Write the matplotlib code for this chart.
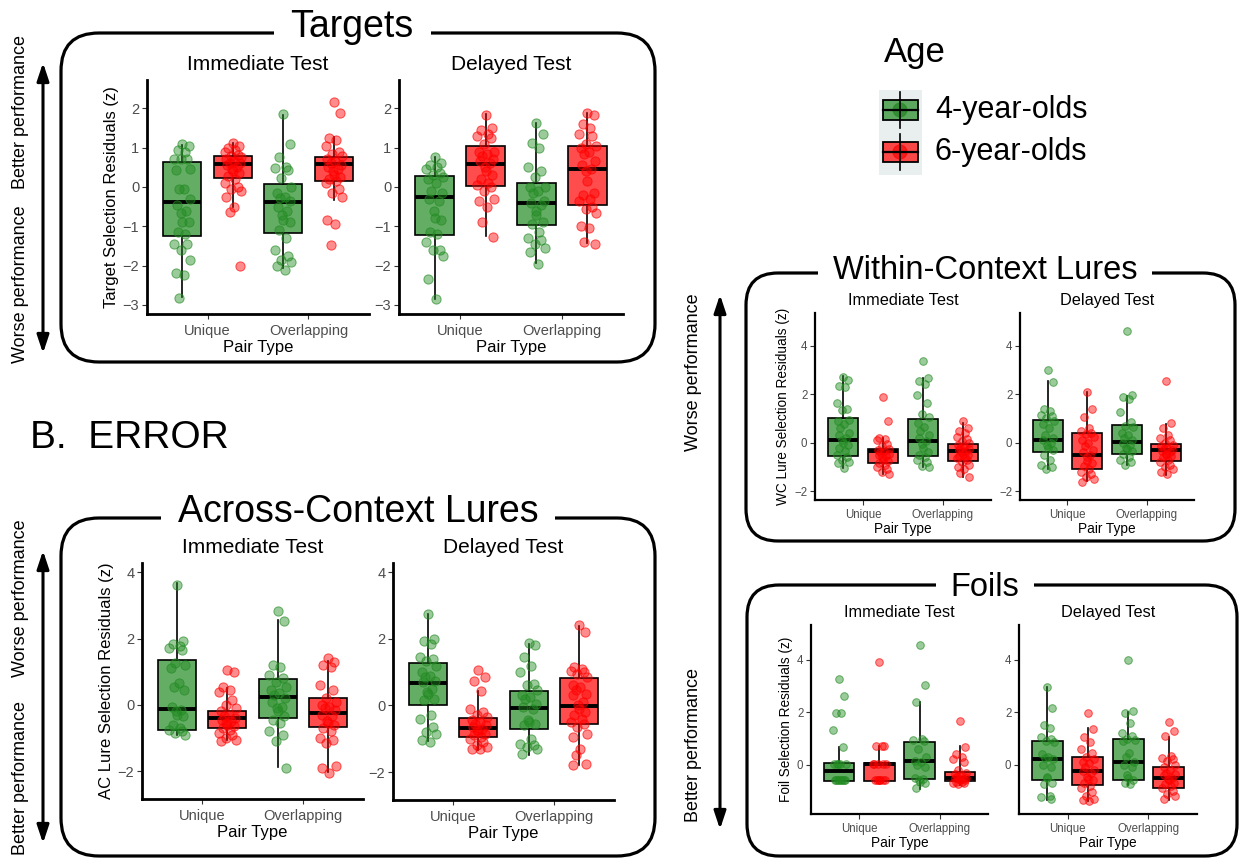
import matplotlib
matplotlib.use("Agg")
import matplotlib.pyplot as plt
from matplotlib.colors import to_rgba
from matplotlib.patches import FancyBboxPatch, Rectangle, FancyArrowPatch, Circle

plt.rcParams["font.family"] = ["Liberation Sans", "DejaVu Sans"]

W, H = 1241, 861

PAIR_TYPES = ["Unique", "Overlapping"]
AGES = ["4-year-olds", "6-year-olds"]
TESTS = ["Immediate Test", "Delayed Test"]

# box stats per group: [whisker low, q1, median, q3, whisker high]
# group order: Unique/4y, Unique/6y, Overlapping/4y, Overlapping/6y
tgt_imm_box = [[-2.81, -1.24, -0.37, 0.63, 1.07], [-0.50, 0.22, 0.59, 0.80, 1.13],
               [-2.07, -1.18, -0.39, 0.08, 1.83], [-0.33, 0.14, 0.58, 0.76, 1.28]]
tgt_imm_pts = [
    [1.10, 1.05, 0.95, 0.90, 0.72, 0.70, 0.70, 0.45, 0.42, -0.05, -0.05, -0.30, -0.45,
     -0.60, -0.65, -0.90, -0.90, -1.15, -1.20, -1.45, -1.45, -1.60, -1.85, -2.20, -2.25, -2.83],
    [1.12, 1.05, 1.00, 0.95, 0.88, 0.82, 0.78, 0.75, 0.70, 0.65, 0.62, 0.60, 0.55, 0.50,
     0.45, 0.40, 0.35, 0.28, 0.20, 0.10, 0.00, -0.05, -0.10, -0.25, -0.50, -0.63, -2.00],
    [1.85, 1.10, 0.75, 0.50, 0.48, 0.42, 0.22, 0.00, -0.15, -0.25, -0.28, -0.35, -0.50,
     -0.60, -0.70, -0.85, -0.90, -1.10, -1.30, -1.60, -1.75, -1.85, -1.90, -2.00, -2.12],
    [2.15, 1.87, 1.25, 1.20, 1.05, 0.90, 0.85, 0.80, 0.70, 0.65, 0.60, 0.55, 0.50, 0.45,
     0.40, 0.30, 0.25, 0.20, 0.15, 0.10, -0.05, -0.15, -0.25, -0.85, -0.95, -1.48],
]
tgt_del_box = [[-2.85, -1.22, -0.25, 0.29, 0.77], [-1.25, 0.02, 0.59, 1.04, 1.85],
               [-1.94, -0.97, -0.40, 0.11, 1.62], [-1.43, -0.46, 0.46, 1.04, 1.87]]
tgt_del_pts = [
    [0.77, 0.60, 0.55, 0.50, 0.45, 0.35, 0.30, 0.25, 0.20, 0.10, -0.10, -0.15, -0.30,
     -0.35, -0.60, -0.80, -0.85, -1.15, -1.20, -1.40, -1.60, -1.60, -1.75, -2.33, -2.85],
    [1.82, 1.50, 1.45, 1.35, 1.30, 1.25, 1.10, 0.90, 0.88, 0.85, 0.80, 0.70, 0.65, 0.60,
     0.50, 0.40, 0.30, 0.20, 0.10, 0.05, 0.00, -0.10, -0.30, -0.35, -0.50, -0.90, -1.27],
    [1.63, 1.35, 1.12, 1.00, 0.50, 0.40, 0.25, 0.00, 0.00, -0.10, -0.15, -0.35, -0.40,
     -0.45, -0.60, -0.70, -0.90, -0.95, -1.15, -1.30, -1.35, -1.45, -1.55, -1.65, -1.95],
    [1.87, 1.82, 1.60, 1.50, 1.35, 1.30, 1.10, 1.05, 1.00, 0.90, 0.85, 0.65, 0.55, 0.45,
     0.40, 0.15, -0.15, -0.20, -0.30, -0.35, -0.50, -0.55, -0.65, -1.00, -1.05, -1.40, -1.45],
]

ac_imm_box = [[-0.91, -0.75, -0.13, 1.35, 3.67], [-1.07, -0.71, -0.41, -0.18, 0.50],
              [-1.87, -0.41, 0.24, 0.78, 2.56], [-2.04, -0.66, -0.26, 0.22, 1.32]]
ac_imm_pts = [
    [3.63, 1.92, 1.85, 1.78, 1.72, 1.65, 1.25, 1.20, 1.10, 0.65, 0.55, 0.45, -0.05, -0.15,
     -0.20, -0.30, -0.35, -0.60, -0.70, -0.75, -0.80, -0.85, -0.90],
    [1.05, 0.98, 0.55, 0.45, 0.40, 0.15, 0.00, -0.10, -0.20, -0.30, -0.35, -0.40, -0.45,
     -0.50, -0.55, -0.60, -0.65, -0.70, -0.75, -0.85, -0.90, -1.00, -1.05, -1.10],
    [2.82, 2.52, 1.20, 1.15, 0.90, 0.80, 0.70, 0.55, 0.45, 0.35, 0.30, 0.20, 0.10, -0.05,
     -0.10, -0.20, -0.35, -0.45, -0.55, -0.80, -0.90, -1.10, -1.90],
    [1.40, 1.30, 1.20, 1.15, 0.60, 0.45, 0.20, 0.10, 0.00, -0.05, -0.10, -0.15, -0.30,
     -0.35, -0.50, -0.55, -0.60, -0.70, -0.80, -1.00, -1.05, -1.15, -1.85, -1.90, -2.05],
]
ac_del_box = [[-1.08, 0.01, 0.68, 1.28, 2.74], [-1.33, -0.96, -0.69, -0.37, 0.43],
              [-1.48, -0.72, -0.07, 0.43, 1.86], [-1.78, -0.57, -0.02, 0.83, 2.39]]
ac_del_pts = [
    [2.75, 2.00, 1.95, 1.85, 1.45, 1.40, 1.35, 1.20, 1.00, 0.90, 0.85, 0.75, 0.70, 0.50,
     0.40, 0.35, 0.20, 0.15, -0.30, -0.40, -0.65, -0.80, -0.85, -1.05, -1.10],
    [1.08, 0.85, 0.75, 0.42, -0.10, -0.20, -0.30, -0.35, -0.45, -0.50, -0.55, -0.60, -0.65,
     -0.70, -0.75, -0.80, -0.85, -0.90, -0.95, -1.00, -1.10, -1.20, -1.25, -1.30, -1.32],
    [1.88, 1.82, 1.45, 1.20, 1.00, 0.65, 0.60, 0.45, 0.30, 0.25, 0.20, 0.05, -0.05, -0.10,
     -0.45, -0.50, -0.55, -0.60, -1.00, -1.15, -1.20, -1.25, -1.30, -1.45],
    [2.42, 2.20, 1.15, 1.10, 1.05, 1.00, 0.95, 0.85, 0.60, 0.55, 0.45, 0.35, 0.30, 0.10,
     0.00, -0.10, -0.20, -0.30, -0.40, -0.50, -0.55, -0.65, -0.85, -0.95, -1.30, -1.50,
     -1.75, -1.80],
]

wc_imm_box = [[-1.03, -0.55, 0.11, 1.03, 2.74], [-1.28, -0.84, -0.35, -0.26, 0.20],
              [-1.00, -0.55, 0.07, 0.98, 2.65], [-1.42, -0.76, -0.35, -0.07, 0.81]]
wc_imm_pts = [
    [2.72, 2.60, 2.35, 2.30, 1.65, 1.40, 1.35, 0.95, 0.90, 0.75, 0.60, 0.40, 0.30, 0.20,
     0.10, 0.00, -0.10, -0.20, -0.35, -0.50, -0.60, -0.70, -0.80, -0.85, -1.05],
    [1.87, 0.90, 0.20, 0.15, 0.10, -0.05, -0.15, -0.25, -0.30, -0.35, -0.40, -0.45, -0.50,
     -0.55, -0.60, -0.70, -0.75, -0.85, -0.90, -1.00, -1.10, -1.20, -1.28],
    [3.35, 2.68, 2.55, 2.40, 1.95, 1.65, 1.20, 1.05, 0.80, 0.65, 0.50, 0.30, 0.20, 0.05,
     -0.05, -0.20, -0.40, -0.50, -0.60, -0.70, -0.80, -0.95, -1.00],
    [0.88, 0.60, 0.50, 0.40, 0.25, 0.15, 0.05, 0.00, -0.10, -0.15, -0.20, -0.25, -0.30,
     -0.35, -0.40, -0.45, -0.50, -0.55, -0.60, -0.65, -0.70, -0.80, -0.90, -1.00, -1.10,
     -1.25, -1.40],
]
wc_del_box = [[-1.07, -0.39, 0.11, 0.94, 2.54], [-1.59, -1.08, -0.50, 0.39, 2.07],
              [-0.90, -0.46, 0.03, 0.72, 1.93], [-1.31, -0.76, -0.32, -0.06, 0.76]]
wc_del_pts = [
    [3.00, 2.50, 1.40, 1.30, 1.15, 1.10, 1.00, 0.90, 0.75, 0.60, 0.30, 0.20, 0.10, 0.00,
     -0.10, -0.20, -0.30, -0.50, -0.70, -0.90, -1.00, -1.07],
    [2.07, 1.40, 1.05, 0.60, 0.50, 0.40, 0.35, 0.25, 0.10, 0.00, -0.15, -0.30, -0.40,
     -0.50, -0.60, -0.75, -0.85, -0.95, -1.10, -1.20, -1.30, -1.40, -1.50, -1.60],
    [4.60, 1.95, 1.88, 1.80, 1.25, 0.85, 0.70, 0.65, 0.40, 0.30, 0.20, 0.10, 0.00, -0.10,
     -0.20, -0.25, -0.35, -0.45, -0.60, -0.70, -0.80, -0.90],
    [2.52, 0.80, 0.60, 0.30, 0.20, 0.10, 0.00, -0.10, -0.15, -0.20, -0.25, -0.30, -0.35,
     -0.40, -0.45, -0.50, -0.55, -0.60, -0.70, -0.80, -0.90, -1.00, -1.10, -1.20, -1.30],
]

foil_imm_box = [[-0.63, -0.61, -0.23, 0.06, 0.66], [-0.63, -0.61, 0.03, 0.05, 0.70],
                [-0.91, -0.55, 0.13, 0.86, 2.39], [-0.79, -0.63, -0.51, -0.27, 0.70]]
foil_imm_pts = [
    [3.28, 2.63, 1.98, 1.98, 1.33, 0.66, 0.03, 0.03, 0.03, 0.03, 0.03, -0.60, -0.60,
     -0.60, -0.60, -0.60, -0.60, -0.60, -0.60],
    [3.92, 0.70, 0.70, 0.70, 0.03, 0.03, 0.03, 0.03, 0.03, -0.60, -0.60, -0.60, -0.60,
     -0.60, -0.60, -0.60],
    [4.58, 3.03, 2.38, 1.00, 0.95, 0.90, 0.60, 0.30, 0.15, 0.10, 0.00, -0.10, -0.50,
     -0.55, -0.60, -0.65, -0.70, -0.90],
    [1.68, 0.68, 0.40, 0.30, 0.20, 0.10, -0.20, -0.30, -0.35, -0.40, -0.45, -0.50, -0.50,
     -0.55, -0.55, -0.60, -0.60, -0.65, -0.65, -0.70, -0.70, -0.75],
]
foil_del_box = [[-1.33, -0.57, 0.23, 0.91, 2.98], [-1.39, -0.76, -0.25, 0.30, 1.40],
                [-0.76, -0.57, 0.10, 0.99, 2.03], [-1.33, -0.89, -0.51, -0.09, 1.04]]
foil_del_pts = [
    [2.95, 2.15, 1.50, 1.40, 1.05, 1.00, 0.90, 0.85, 0.40, 0.30, 0.25, 0.20, 0.00, -0.10,
     -0.45, -0.50, -0.70, -0.75, -1.20, -1.25, -1.30],
    [1.98, 1.35, 1.05, 0.85, 0.60, 0.45, 0.30, 0.20, 0.10, 0.05, -0.10, -0.20, -0.25,
     -0.30, -0.45, -0.55, -0.60, -0.70, -0.80, -0.90, -1.05, -1.20, -1.30, -1.35, -1.40],
    [3.98, 2.05, 1.98, 1.60, 1.20, 1.10, 1.00, 0.95, 0.90, 0.45, 0.30, 0.10, 0.00, -0.10,
     -0.40, -0.50, -0.60, -0.70, -0.75],
    [1.62, 1.30, 1.08, 0.35, 0.25, 0.20, 0.15, 0.00, -0.10, -0.20, -0.30, -0.35, -0.40,
     -0.50, -0.55, -0.60, -0.70, -0.75, -0.80, -0.90, -1.00, -1.10, -1.20, -1.30],
]

# ---- styling / layout ----
GREEN = "#228B22"
RED = "#FF0000"
BOX_FILL = [to_rgba(GREEN, 0.7), to_rgba(RED, 0.7)]
PT_FACE = [to_rgba(GREEN, 0.45), to_rgba(RED, 0.45)]
PT_EDGE = [to_rgba(GREEN, 0.65), to_rgba(RED, 0.65)]
TICK_GREY = "#4D4D4D"
JITTER = [0.0, 0.7, -0.5, 0.3, -0.9, 0.55, -0.2, 0.9, -0.7, 0.15, -0.35, 0.8, -0.6, 0.45, -0.1]
POS = [0.75, 1.25, 1.75, 2.25]

fig = plt.figure(figsize=(W / 100, H / 100), dpi=100)

# background layer in pixel coordinates for frames, arrows and headings
bg = fig.add_axes([0, 0, 1, 1], zorder=0)
bg.set_xlim(0, W)
bg.set_ylim(H, 0)
bg.axis("off")


def px_axes(l, t, r, b):
    ax = fig.add_axes([l / W, 1 - b / H, (r - l) / W, (b - t) / H], zorder=2)
    ax.patch.set_alpha(0)
    return ax


def draw_sub(rect, box, pts, ylim, yticks, title, ylabel, big):
    ax = px_axes(*rect)
    fs_tick, fs_lab, fs_title = (10.5, 12, 15) if big else (8.3, 9.8, 11.7)
    spine_w = 2.0 if big else 1.6
    ms = 44 if big else 30
    stats = [dict(whislo=b[0], q1=b[1], med=b[2], q3=b[3], whishi=b[4], fliers=[]) for b in box]
    bp = ax.bxp(stats, positions=POS, widths=0.38, patch_artist=True, showcaps=False,
                boxprops=dict(edgecolor="black", linewidth=1.2),
                whiskerprops=dict(color="black", linewidth=1.2),
                medianprops=dict(color="black", linewidth=2.8, solid_capstyle="butt"),
                manage_ticks=False, zorder=2)
    for k, patch in enumerate(bp["boxes"]):
        patch.set_facecolor(BOX_FILL[k % 2])
    for k, vals in enumerate(pts):
        xs = [POS[k] + 0.09 * JITTER[i % len(JITTER)] for i in range(len(vals))]
        ax.scatter(xs, vals, s=ms, facecolor=PT_FACE[k % 2], edgecolor=PT_EDGE[k % 2],
                   linewidth=0.7, zorder=3)
    ax.set_xlim(0.4, 2.6)
    ax.set_ylim(*ylim)
    ax.set_xticks([1, 2], PAIR_TYPES)
    ax.set_yticks(yticks)
    for s in ("top", "right"):
        ax.spines[s].set_visible(False)
    for s in ("left", "bottom"):
        ax.spines[s].set_linewidth(spine_w)
    ax.tick_params(length=3.5, width=0.8, color="#333333", labelcolor=TICK_GREY,
                   labelsize=fs_tick, pad=2)
    ax.tick_params(axis="x", pad=4 if big else 3)
    ax.set_xlabel("Pair Type", fontsize=fs_lab, labelpad=1)
    if ylabel:
        ax.set_ylabel(ylabel, fontsize=fs_lab, labelpad=3)
    ax.set_title(title, fontsize=fs_title, pad=7 if big else 6)
    return ax


def frame(l, t, r, b, rad, title, cx, base, fs):
    bg.add_patch(FancyBboxPatch((l, t), r - l, b - t,
                                boxstyle=f"round,pad=0,rounding_size={rad}",
                                fc="none", ec="black", lw=2.3))
    bg.text(cx, base, title, fontsize=fs, ha="center", va="baseline", zorder=5,
            bbox=dict(boxstyle="square,pad=0.45", fc="white", ec="none"))


def side_arrow(x, y0, y1):
    bg.add_patch(FancyArrowPatch((x, y0), (x, y1), arrowstyle="<|-|>,head_length=0.9,head_width=0.3",
                                 mutation_scale=12, lw=2.2, color="black"))


def side_text(x, y, s):
    bg.text(x, y, s, rotation=90, ha="center", va="center", fontsize=13)


# frames and panel headings
frame(61, 33, 655, 362, 38, "Targets", 352, 37, 27)
frame(61, 518, 655, 856, 38, "Across-Context Lures", 358, 522, 27)
frame(746, 273, 1235, 541, 32, "Within-Context Lures", 985, 279, 23.5)
frame(747, 585, 1237, 856, 32, "Foils", 985, 596, 23.5)

bg.text(30, 448, "B.  ERROR", fontsize=28, ha="left", va="baseline")

# performance arrows
side_arrow(43, 60, 356)
side_text(21, 112, "Better performance")
side_text(21, 284, "Worse performance")
side_arrow(43, 548, 846)
side_text(21, 598, "Worse performance")
side_text(21, 778, "Better performance")
side_arrow(720, 292, 832)
side_text(694, 372, "Worse performance")
side_text(694, 745, "Better performance")

# subplots
draw_sub((147, 80, 369, 314), tgt_imm_box, tgt_imm_pts, (-3.23, 2.72), [-3, -2, -1, 0, 1, 2],
         TESTS[0], "Target Selection Residuals (z)", True)
draw_sub((399, 80, 623, 314), tgt_del_box, tgt_del_pts, (-3.23, 2.72), [-3, -2, -1, 0, 1, 2],
         TESTS[1], None, True)
draw_sub((142, 563, 363, 799), ac_imm_box, ac_imm_pts, (-2.84, 4.28), [-2, 0, 2, 4],
         TESTS[0], "AC Lure Selection Residuals (z)", True)
draw_sub((393, 563, 614, 800), ac_del_box, ac_del_pts, (-2.84, 4.28), [-2, 0, 2, 4],
         TESTS[1], None, True)
draw_sub((815, 313, 991, 500), wc_imm_box, wc_imm_pts, (-2.36, 5.34), [-2, 0, 2, 4],
         TESTS[0], "WC Lure Selection Residuals (z)", False)
draw_sub((1020, 313, 1194, 500), wc_del_box, wc_del_pts, (-2.36, 5.34), [-2, 0, 2, 4],
         TESTS[1], None, False)
draw_sub((811, 625, 988, 814), foil_imm_box, foil_imm_pts, (-1.88, 5.33), [0, 2, 4],
         TESTS[0], "Foil Selection Residuals (z)", False)
draw_sub((1019, 625, 1197, 814), foil_del_box, foil_del_pts, (-1.88, 5.33), [0, 2, 4],
         TESTS[1], None, False)

# legend (drawn by hand in the pixel layer)
bg.text(884, 62, "Age", fontsize=25, ha="left", va="baseline")
bg.add_patch(Rectangle((879, 90), 43, 85, fc="#E9EEEE", ec="none"))
for k, (label, yc) in enumerate(zip(AGES, [110, 152])):
    bg.plot([900, 900], [yc - 18, yc + 18], color="black", lw=1.2)
    bg.add_patch(Rectangle((883, yc - 10), 35, 20, fc=BOX_FILL[k], ec="black", lw=1.3))
    bg.plot([883, 918], [yc, yc], color="black", lw=1.6)
    bg.add_patch(Circle((900, yc), 7, fc=to_rgba(["#1a7a1a", "#ee0000"][k], 0.6),
                        ec=PT_EDGE[k], lw=0.8))
    bg.text(935, yc, label, fontsize=22, ha="left", va="center")

fig.savefig("out.png", dpi=100)
